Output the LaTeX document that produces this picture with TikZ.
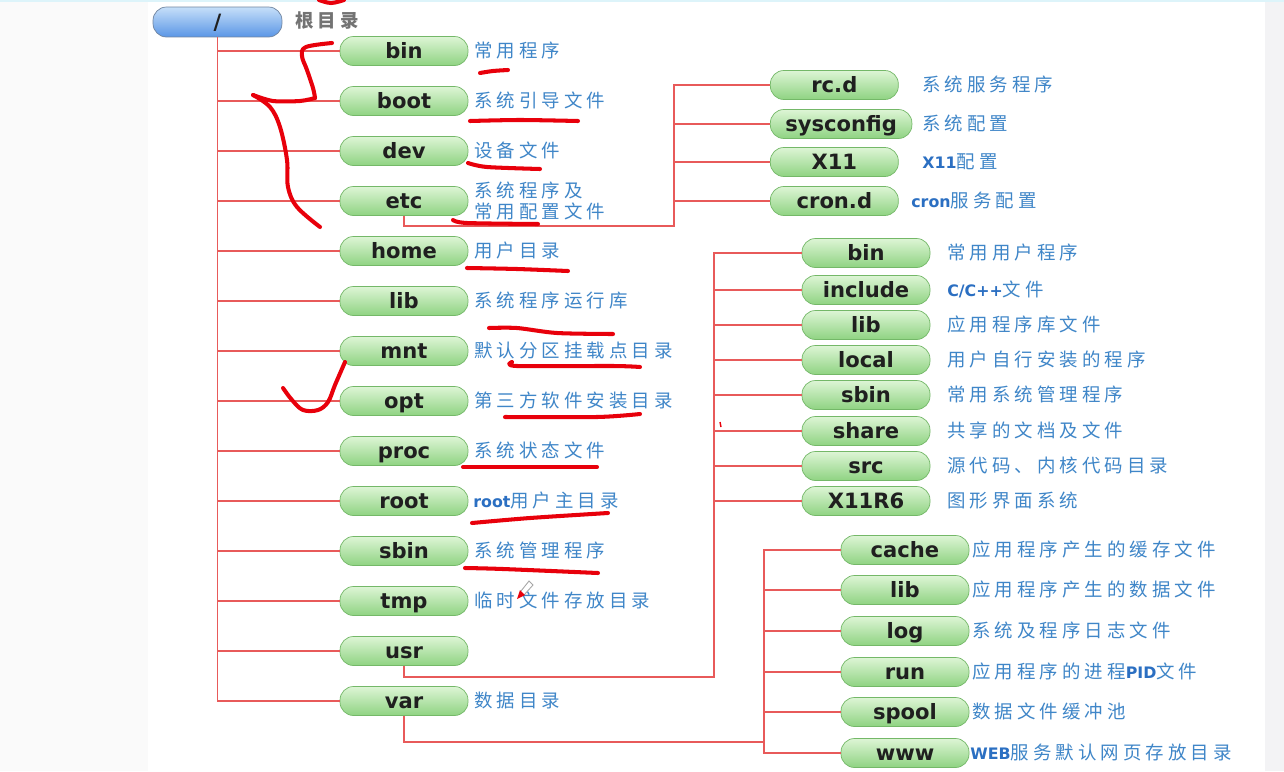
\documentclass[tikz,border=0pt]{standalone}
\usepackage{fontspec}
\setmainfont{DejaVu Sans}
\newfontfamily\cjk[LetterSpace=22]{Noto Sans CJK SC}
\newfontfamily\dirfont{DejaVu Sans}
\definecolor{boxtop}{HTML}{DDF5D5}
\definecolor{boxbot}{HTML}{8FD382}
\definecolor{boxline}{HTML}{74B868}
\definecolor{roottop}{HTML}{C6DFF9}
\definecolor{rootbot}{HTML}{5A96E6}
\definecolor{rootline}{HTML}{7085A0}
\definecolor{treered}{HTML}{E85A5A}
\definecolor{penred}{HTML}{E8000B}
\definecolor{noteblue}{HTML}{3F86C8}
\definecolor{latblue}{HTML}{2B6FC2}
\definecolor{bgleft}{HTML}{FAFAFA}
\definecolor{bgright}{HTML}{F3F3F5}
\definecolor{topcyan}{HTML}{DDF4FA}
\newcommand{\en}[1]{{\dirfont\bfseries\fontsize{9}{12}\selectfont\color{latblue}#1}}
\tikzset{
  dirbox/.style={draw=boxline, top color=boxtop, bottom color=boxbot, rounded corners=0.27cm,
    minimum width=2.56cm, minimum height=0.58cm, inner xsep=0.3cm, inner ysep=0pt,
    text height=9pt, text depth=0pt, font=\dirfont\bfseries\fontsize{12}{14}\selectfont, text=black!88},
  rootbox/.style={dirbox, draw=rootline, top color=roottop, bottom color=rootbot, minimum width=2.58cm, minimum height=0.6cm},
  notebase/.style={anchor=west, inner sep=0pt, text=noteblue, font=\cjk\fontsize{10.5}{12}\selectfont, align=left},
  note/.style={notebase, text height=9.2pt, text depth=1.3pt},
  treeline/.style={draw=treered, line width=0.7pt},
  redpen/.style={draw=penred, line width=2.3pt, line cap=round, line join=round},
}
\begin{document}
\begin{tikzpicture}[x=0.02cm, y=-0.02cm]
  \useasboundingbox (0,0) rectangle (1284,771);
  % screen background
  \fill[bgleft] (0,0) rectangle (1284,771);
  \fill[white] (148,0) rectangle (1265,771);
  \fill[bgright] (1265,0) rectangle (1284,771);
  \fill[topcyan] (0,0) rectangle (1284,2);

  % root
  \node[rootbox] (slash) at (217.5,22) {/};
  \node[note, text=black!55, font=\cjk\bfseries\fontsize{10.5}{12}\selectfont] (slash-t) at (295,21) {根目录};

  % first level
  \node[dirbox] (bin) at (404,51) {bin};     \node[note] (bin-t) at (474,51) {常用程序};
  \node[dirbox] (boot) at (404,101) {boot};  \node[note] (boot-t) at (474,101) {系统引导文件};
  \node[dirbox] (dev) at (404,151) {dev};    \node[note] (dev-t) at (474,151) {设备文件};
  \node[dirbox] (etc) at (404,201) {etc};    \node[notebase] (etc-t) at (474,201) {系统程序及\\常用配置文件};
  \node[dirbox] (home) at (404,251) {home};  \node[note] (home-t) at (474,251) {用户目录};
  \node[dirbox] (lib) at (404,301) {lib};    \node[note] (lib-t) at (474,301) {系统程序运行库};
  \node[dirbox] (mnt) at (404,351) {mnt};    \node[note] (mnt-t) at (474,351) {默认分区挂载点目录};
  \node[dirbox] (opt) at (404,401) {opt};    \node[note] (opt-t) at (474,401) {第三方软件安装目录};
  \node[dirbox] (proc) at (404,451) {proc};  \node[note] (proc-t) at (474,451) {系统状态文件};
  \node[dirbox] (root) at (404,501) {root};  \node[note] (root-t) at (473,501) {\en{root}用户主目录};
  \node[dirbox] (sbin) at (404,551) {sbin};  \node[note] (sbin-t) at (474,551) {系统管理程序};
  \node[dirbox] (tmp) at (404,601) {tmp};    \node[note] (tmp-t) at (474,601) {临时文件存放目录};
  \node[dirbox] (usr) at (404,651) {usr};
  \node[dirbox] (var) at (404,701) {var};    \node[note] (var-t) at (474,701) {数据目录};

  \draw[treeline] (slash.south) |- (bin.west); \draw[treeline] (slash.south) |- (boot.west);
  \draw[treeline] (slash.south) |- (dev.west); \draw[treeline] (slash.south) |- (etc.west);
  \draw[treeline] (slash.south) |- (home.west); \draw[treeline] (slash.south) |- (lib.west);
  \draw[treeline] (slash.south) |- (mnt.west); \draw[treeline] (slash.south) |- (opt.west);
  \draw[treeline] (slash.south) |- (proc.west); \draw[treeline] (slash.south) |- (root.west);
  \draw[treeline] (slash.south) |- (sbin.west); \draw[treeline] (slash.south) |- (tmp.west);
  \draw[treeline] (slash.south) |- (usr.west); \draw[treeline] (slash.south) |- (var.west);

  % /etc
  \node[dirbox, anchor=west] (rcd) at (770,85) {rc.d};            \node[note] (rcd-t) at (922,85) {系统服务程序};
  \node[dirbox, anchor=west] (sysconfig) at (770,124) {sysconfig}; \node[note] (sysconfig-t) at (922,124) {系统配置};
  \node[dirbox, anchor=west] (x11) at (770,162) {X11};            \node[note] (x11-t) at (922,162) {\en{X11}配置};
  \node[dirbox, anchor=west] (crond) at (770,201) {cron.d};       \node[note] (crond-t) at (911,201) {\en{cron}服务配置};
  \coordinate (etcbus) at (674,226);
  \draw[treeline] (etc.south) |- (etcbus) |- (rcd.west);
  \draw[treeline] (etcbus) |- (sysconfig.west); \draw[treeline] (etcbus) |- (x11.west); \draw[treeline] (etcbus) |- (crond.west);

  % /usr
  \node[dirbox] (ubin) at (866,253) {bin};         \node[note] (ubin-t) at (947,253) {常用用户程序};
  \node[dirbox] (uinclude) at (866,290) {include}; \node[note] (uinclude-t) at (947,290) {\en{C/C++}文件};
  \node[dirbox] (ulib) at (866,325) {lib};         \node[note] (ulib-t) at (947,325) {应用程序库文件};
  \node[dirbox] (ulocal) at (866,360) {local};     \node[note] (ulocal-t) at (947,360) {用户自行安装的程序};
  \node[dirbox] (usbin) at (866,395) {sbin};       \node[note] (usbin-t) at (947,395) {常用系统管理程序};
  \node[dirbox] (ushare) at (866,431) {share};     \node[note] (ushare-t) at (947,431) {共享的文档及文件};
  \node[dirbox] (usrc) at (866,466) {src};         \node[note] (usrc-t) at (947,466) {源代码、内核代码目录};
  \node[dirbox] (ux11r6) at (866,501) {X11R6};     \node[note] (ux11r6-t) at (947,501) {图形界面系统};
  \coordinate (usrbus) at (714,677);
  \draw[treeline] (usr.south) |- (usrbus) |- (ubin.west);
  \draw[treeline] (usrbus) |- (uinclude.west); \draw[treeline] (usrbus) |- (ulib.west); \draw[treeline] (usrbus) |- (ulocal.west);
  \draw[treeline] (usrbus) |- (usbin.west); \draw[treeline] (usrbus) |- (ushare.west); \draw[treeline] (usrbus) |- (usrc.west);
  \draw[treeline] (usrbus) |- (ux11r6.west);

  % /var
  \node[dirbox] (vcache) at (905,550) {cache}; \node[note] (vcache-t) at (972,550) {应用程序产生的缓存文件};
  \node[dirbox] (vlib) at (905,590) {lib};     \node[note] (vlib-t) at (972,590) {应用程序产生的数据文件};
  \node[dirbox] (vlog) at (905,631) {log};     \node[note] (vlog-t) at (972,631) {系统及程序日志文件};
  \node[dirbox] (vrun) at (905,672) {run};     \node[note] (vrun-t) at (972,672) {应用程序的进程\en{PID}文件};
  \node[dirbox] (vspool) at (905,712) {spool}; \node[note] (vspool-t) at (972,712) {数据文件缓冲池};
  \node[dirbox] (vwww) at (905,753) {www};     \node[note] (vwww-t) at (970,753) {\en{WEB}服务默认网页存放目录};
  \coordinate (varbus) at (764,742);
  \draw[treeline] (var.south) |- (varbus) |- (vcache.west);
  \draw[treeline] (varbus) |- (vlib.west); \draw[treeline] (varbus) |- (vlog.west); \draw[treeline] (varbus) |- (vrun.west);
  \draw[treeline] (varbus) |- (vspool.west); \draw[treeline] (varbus) |- (vwww.west);

  % hand marks
  \draw[redpen] plot[smooth, tension=0.6] coordinates {(319,0) (331,3) (344,0)};
  \draw[redpen] plot[smooth, tension=0.6] coordinates {(332,43) (306,47) (302,56) (307,70) (313,88) (315,98)};
  \draw[redpen] plot[smooth, tension=0.5] coordinates {(315,98) (300,101) (273,101) (253,95)};
  \draw[redpen] plot[smooth, tension=0.6] coordinates {(253,95) (270,107) (280,127) (287,160) (288,187) (297,207) (320,227)};
  \draw[redpen] plot[smooth, tension=0.6] coordinates {(345,362) (335,385) (328,402) (318,410) (303,410) (292,400) (283,388)};
  \draw[redpen] plot[smooth] coordinates {(480,73) (493,71) (508,70)};
  \draw[redpen] plot[smooth] coordinates {(470,121) (520,120) (578,121)};
  \draw[redpen] plot[smooth] coordinates {(468,163) (487,167) (540,169)};
  \draw[redpen] plot[smooth] coordinates {(453,220) (467,223) (538,224)};
  \draw[redpen] plot[smooth] coordinates {(467,268) (517,269) (568,271)};
  \draw[redpen] plot[smooth] coordinates {(489,328) (517,328) (557,333) (613,334)};
  \draw[redpen] plot[smooth] coordinates {(512,362) (517,366) (613,366) (640,367)};
  \draw[redpen] plot[smooth] coordinates {(505,417) (597,417) (640,414)};
  \draw[redpen] plot[smooth] coordinates {(463,467) (530,467) (597,467)};
  \draw[redpen] plot[smooth] coordinates {(472,523) (530,518) (608,513)};
  \draw[redpen] plot[smooth] coordinates {(465,568) (503,569) (598,573)};
  \draw[penred, line width=0.8pt] (720,422) -- (721,427);
  % pointer
  \draw[gray!70, line width=0.5pt] (521,591) -- (529,581) -- (533,585) -- (524,595);
  \fill[penred] (517,599) -- (520,590) -- (525,595) -- cycle;
\end{tikzpicture}
\end{document}
